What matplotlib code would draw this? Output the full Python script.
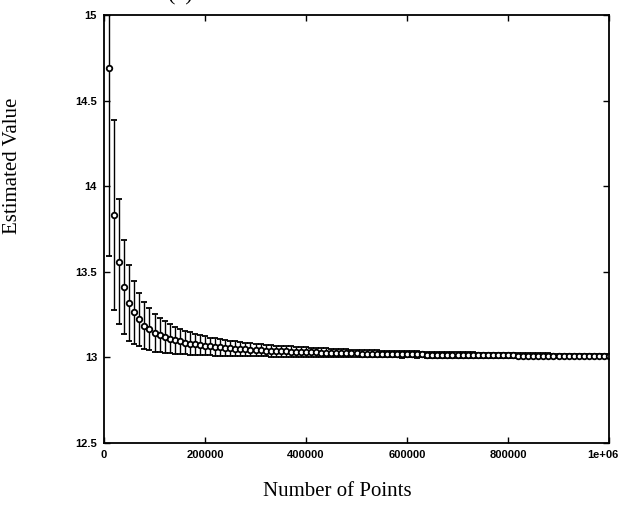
import matplotlib
matplotlib.use("Agg")
import matplotlib.pyplot as plt
from matplotlib.transforms import ScaledTranslation

# Number of points (x) for each estimate
n_points = [
    10000, 20000, 30000, 40000, 50000, 60000, 70000, 80000, 90000, 100000,
    110000, 120000, 130000, 140000, 150000, 160000, 170000, 180000, 190000, 200000,
    210000, 220000, 230000, 240000, 250000, 260000, 270000, 280000, 290000, 300000,
    310000, 320000, 330000, 340000, 350000, 360000, 370000, 380000, 390000, 400000,
    410000, 420000, 430000, 440000, 450000, 460000, 470000, 480000, 490000, 500000,
    510000, 520000, 530000, 540000, 550000, 560000, 570000, 580000, 590000, 600000,
    610000, 620000, 630000, 640000, 650000, 660000, 670000, 680000, 690000, 700000,
    710000, 720000, 730000, 740000, 750000, 760000, 770000, 780000, 790000, 800000,
    810000, 820000, 830000, 840000, 850000, 860000, 870000, 880000, 890000, 900000,
    910000, 920000, 930000, 940000, 950000, 960000, 970000, 980000, 990000, 1000000,
]

# Estimated value at each point count
estimate = [
    14.690, 13.830, 13.560, 13.410, 13.318, 13.263, 13.222, 13.185, 13.166, 13.144,
    13.129, 13.118, 13.108, 13.100, 13.093, 13.087, 13.081, 13.076, 13.072, 13.068,
    13.064, 13.061, 13.058, 13.056, 13.053, 13.051, 13.049, 13.047, 13.045, 13.043,
    13.041, 13.040, 13.038, 13.037, 13.036, 13.035, 13.034, 13.032, 13.031, 13.030,
    13.030, 13.029, 13.028, 13.027, 13.026, 13.026, 13.025, 13.024, 13.024, 13.023,
    13.022, 13.022, 13.021, 13.021, 13.020, 13.020, 13.019, 13.019, 13.018, 13.018,
    13.018, 13.017, 13.017, 13.016, 13.016, 13.016, 13.015, 13.015, 13.015, 13.014,
    13.014, 13.014, 13.014, 13.013, 13.013, 13.013, 13.012, 13.012, 13.012, 13.012,
    13.012, 13.011, 13.011, 13.011, 13.011, 13.010, 13.010, 13.010, 13.010, 13.010,
    13.009, 13.009, 13.009, 13.009, 13.009, 13.009, 13.008, 13.008, 13.008, 13.008,
]

# Half-width of the error bars
error = [
    1.100, 0.555, 0.367, 0.275, 0.220, 0.183, 0.157, 0.138, 0.122, 0.110,
    0.100, 0.092, 0.085, 0.079, 0.073, 0.069, 0.065, 0.061, 0.058, 0.055,
    0.052, 0.050, 0.048, 0.046, 0.044, 0.042, 0.041, 0.039, 0.038, 0.037,
    0.035, 0.034, 0.033, 0.032, 0.031, 0.031, 0.030, 0.029, 0.028, 0.028,
    0.027, 0.026, 0.026, 0.025, 0.024, 0.024, 0.023, 0.023, 0.022, 0.022,
    0.022, 0.021, 0.021, 0.020, 0.020, 0.020, 0.019, 0.019, 0.019, 0.018,
    0.018, 0.018, 0.017, 0.017, 0.017, 0.017, 0.016, 0.016, 0.016, 0.016,
    0.015, 0.015, 0.015, 0.015, 0.015, 0.014, 0.014, 0.014, 0.014, 0.014,
    0.014, 0.013, 0.013, 0.013, 0.013, 0.013, 0.013, 0.013, 0.012, 0.012,
    0.012, 0.012, 0.012, 0.012, 0.012, 0.011, 0.011, 0.011, 0.011, 0.011,
]

x_ticks = [0, 200000, 400000, 600000, 800000, 1000000]
x_tick_labels = ["0", "200000", "400000", "600000", "800000", "1e+06"]
y_ticks = [12.5, 13, 13.5, 14, 14.5, 15]
y_tick_labels = ["12.5", "13", "13.5", "14", "14.5", "15"]

W, H = 621, 508
fig = plt.figure(figsize=(W / 100, H / 100), dpi=100)
left, right, top, bottom = 104, 609, 15, 443
ax = fig.add_axes([left / W, 1 - bottom / H, (right - left) / W, (bottom - top) / H])

ax.errorbar(n_points, estimate, yerr=error, fmt="o", color="black",
            ecolor="black", elinewidth=1.0, capsize=2.5, capthick=1.0,
            markersize=4.0, markerfacecolor="white", markeredgecolor="black",
            markeredgewidth=1.3)

ax.set_xlim(0, 1000000)
ax.set_ylim(12.5, 15)
ax.set_xticks(x_ticks)
ax.set_xticklabels(x_tick_labels)
ax.set_yticks(y_ticks)
ax.set_yticklabels(y_tick_labels)
ax.tick_params(direction="in", length=4.5, width=1.0, top=True, right=True,
               labelsize=8, pad=5)
for lab in ax.get_xticklabels() + ax.get_yticklabels():
    lab.set_family("Liberation Sans")
    lab.set_fontweight("bold")
last = ax.get_xticklabels()[-1]
last.set_horizontalalignment("right")
last.set_transform(last.get_transform() + ScaledTranslation(10 / 100, 0, fig.dpi_scale_trans))
for sp in ax.spines.values():
    sp.set_linewidth(1.3)

fig.text(337 / W, 1 - 492 / H, "Number of Points", family="Liberation Serif",
         fontsize=15, ha="center", va="center")
fig.text(13 / W, 1 - 166 / H, "Estimated Value", family="Liberation Serif",
         fontsize=15, ha="center", va="center", rotation=90)
fig.text(180 / W, 1.0, "(a)", family="Liberation Serif", fontsize=16,
         ha="center", va="baseline")

fig.savefig("out.png", dpi=100)
